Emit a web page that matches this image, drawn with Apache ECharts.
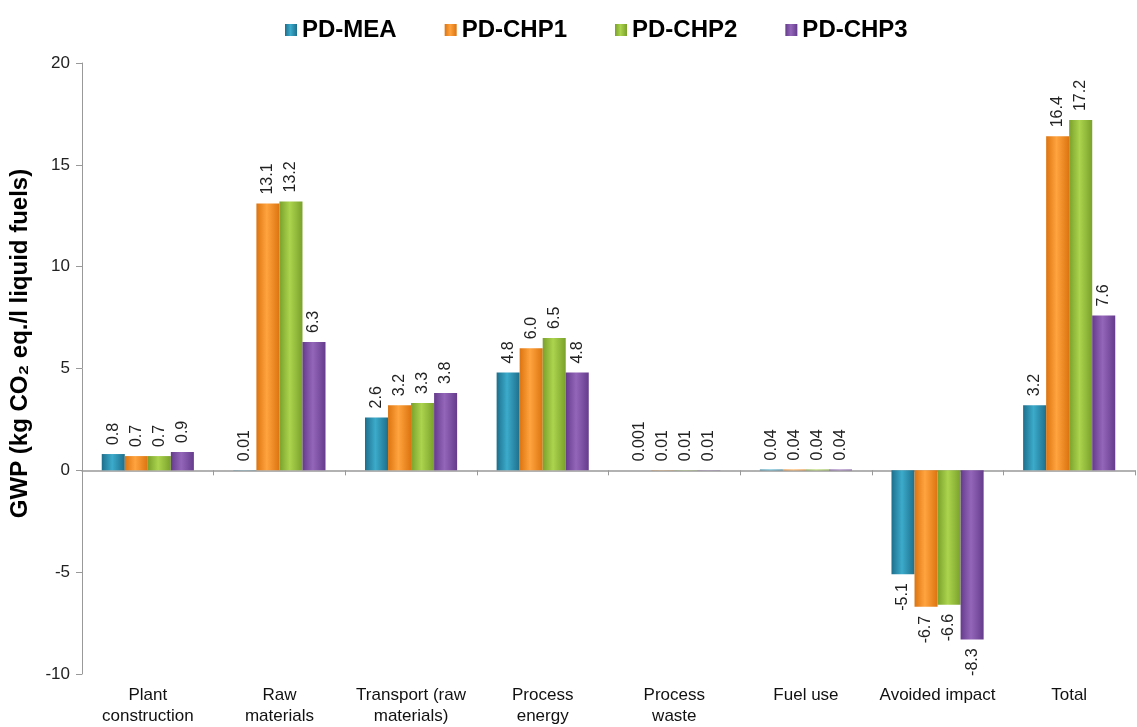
<!DOCTYPE html>
<html>
<head>
<meta charset="utf-8">
<script src="https://cdn.jsdelivr.net/npm/echarts@6/dist/echarts.min.js"></script>
<style>
  html, body { margin: 0; padding: 0; background: #fff; }
  #chart { width: 1137px; height: 727px; }
</style>
</head>
<body>
<div id="chart"></div>
<script>
// categories + series values
var categories = [
  "Plant\nconstruction",
  "Raw\nmaterials",
  "Transport (raw\nmaterials)",
  "Process\nenergy",
  "Process\nwaste",
  "Fuel use",
  "Avoided impact",
  "Total"
];
var seriesNames = ["PD-MEA", "PD-CHP1", "PD-CHP2", "PD-CHP3"];
var pdMEA  = [0.8, 0.01, 2.6, 4.8, 0.001, 0.04, -5.1, 3.2];
var pdCHP1 = [0.7, 13.1, 3.2, 6.0, 0.01, 0.04, -6.7, 16.4];
var pdCHP2 = [0.7, 13.2, 3.3, 6.5, 0.01, 0.04, -6.6, 17.2];
var pdCHP3 = [0.9, 6.3, 3.8, 4.8, 0.01, 0.04, -8.3, 7.6];
var yTicks = [-10, -5, 0, 5, 10, 15, 20];

// edge / centre colours for the cylinder look
var palette = [
  ["#1d6f8c", "#3cabcb"],
  ["#dc7410", "#ffa43f"],
  ["#7aa12a", "#acd44e"],
  ["#653b8c", "#9466ba"]
];

var chart = echarts.init(document.getElementById("chart"));

function fmt(v) {
  return Number.isInteger(v) ? v.toFixed(1) : String(v);
}

function makeSeries(name, values, idx) {
  var c = palette[idx];
  var grad = new echarts.graphic.LinearGradient(0, 0, 1, 0, [
    { offset: 0, color: c[0] },
    { offset: 0.45, color: c[1] },
    { offset: 1, color: c[0] }
  ]);
  return {
    name: name,
    type: "bar",
    barGap: "0%",
    barCategoryGap: "30%",
    itemStyle: { color: grad },
    label: {
      show: true,
      position: "top",
      rotate: 90,
      align: "left",
      verticalAlign: "middle",
      distance: 9,
      color: "#222",
      fontFamily: "Liberation Sans, Arial",
      fontSize: 16,
      formatter: function (p) { return fmt(p.value); }
    },
    data: values.map(function (v) {
      if (v < 0) {
        return { value: v, label: { position: "bottom", align: "right" } };
      }
      return v;
    })
  };
}

var option = {
  animation: false,
  legend: {
    data: seriesNames,
    top: 13,
    left: 280,
    itemWidth: 12,
    itemHeight: 12,
    itemGap: 48,
    icon: "rect",
    textStyle: {
      fontFamily: "Liberation Sans, Arial",
      fontWeight: "bold",
      fontSize: 24,
      color: "#000"
    }
  },
  grid: { left: 81, right: 2, top: 63, bottom: 50, containLabel: false },
  xAxis: [
    {
      type: "category",
      data: categories,
      axisLine: { onZero: true, lineStyle: { color: "#999", width: 1.5 } },
      axisTick: { show: true, length: 5, lineStyle: { color: "#999" } },
      axisLabel: { show: false }
    },
    {
      type: "category",
      data: categories,
      position: "bottom",
      axisLine: { show: false, onZero: false },
      axisTick: { show: false },
      axisLabel: {
        interval: 0,
        margin: 11,
        color: "#111",
        fontFamily: "Liberation Sans, Arial",
        fontSize: 17,
        lineHeight: 21
      }
    }
  ],
  yAxis: {
    type: "value",
    min: yTicks[0],
    max: yTicks[yTicks.length - 1],
    interval: 5,
    name: "GWP (kg CO\u2082 eq./l liquid fuels)",
    nameLocation: "middle",
    nameGap: 50,
    nameTextStyle: {
      fontFamily: "Liberation Sans, Arial",
      fontWeight: "bold",
      fontSize: 24,
      color: "#000",
      padding: [0, 0, 0, 50]
    },
    axisLine: { show: true, lineStyle: { color: "#999" } },
    axisTick: { show: true, length: 6, lineStyle: { color: "#999" } },
    splitLine: { show: false },
    axisLabel: {
      margin: 12,
      color: "#222",
      fontFamily: "Liberation Sans, Arial",
      fontSize: 17
    }
  },
  series: [
    makeSeries(seriesNames[0], pdMEA, 0),
    makeSeries(seriesNames[1], pdCHP1, 1),
    makeSeries(seriesNames[2], pdCHP2, 2),
    makeSeries(seriesNames[3], pdCHP3, 3)
  ]
};

chart.setOption(option);
</script>
</body>
</html>
